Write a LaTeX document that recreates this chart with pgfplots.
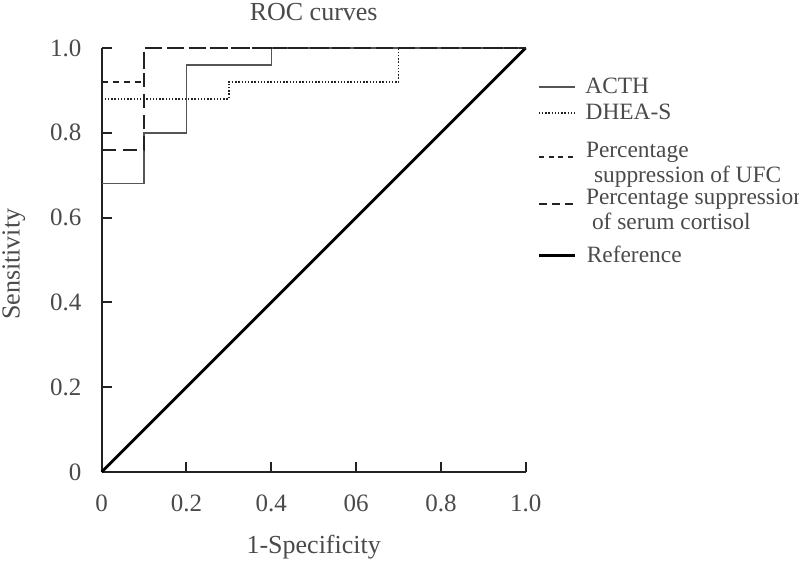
\documentclass[border=0pt]{standalone}
\usepackage{pgfplots}
\pgfplotsset{compat=1.18}
\usepackage{fontspec}
\setmainfont{Liberation Serif}
\definecolor{txt}{HTML}{4A4A4A}
\definecolor{ln}{HTML}{222222}
\definecolor{acth}{HTML}{555555}
\pgfplotsset{
  legax/.style={hide axis, scale only axis, width=212pt, height=212pt,
    xmin=0, xmax=1, ymin=0, ymax=1,
    legend style={at={(axis description cs:1.029,#1)}, anchor=west,
      draw=none, fill=none, inner sep=0pt, outer sep=0pt,
      nodes={inner sep=0pt, outer sep=0pt},
      font=\fontsize{11.7}{12.5}\selectfont, text=txt,
      cells={anchor=west}, column sep=5pt},
    legend image code/.code={\draw[##1] (0pt,0pt) -- (18pt,0pt);}},
}
\begin{document}
\begin{tikzpicture}
\begin{axis}[
  name=ax, scale only axis, width=212pt, height=212pt,
  xmin=0, xmax=1, ymin=0, ymax=1, clip=false,
  axis lines*=left,
  axis line style={line width=1pt, color=ln},
  tick align=inside, major tick length=5pt,
  tick style={line width=1pt, color=ln},
  xtick={0,0.2,0.4,0.6,0.8,1}, xticklabels={0,0.2,0.4,06,0.8,1.0},
  ytick={0,0.2,0.4,0.6,0.8,1}, yticklabels={0,0.2,0.4,0.6,0.8,1.0},
  ticklabel style={font=\fontsize{12.5}{14}\selectfont, text=txt},
  xticklabel style={yshift=-8pt},
  yticklabel style={xshift=-6.6pt},
  xlabel={1-Specificity},
  xlabel style={at={(axis description cs:0.5,-0.177)}, anchor=center, font=\fontsize{13}{15}\selectfont, text=txt},
  ylabel={Sensitivity},
  ylabel style={at={(axis description cs:-0.207,0.49)}, anchor=center, font=\fontsize{13}{15}\selectfont, text=txt},
  title={ROC curves},
  title style={at={(axis description cs:0.5,1.066)}, anchor=base, yshift=-6pt, font=\fontsize{13}{15}\selectfont, text=txt},
]
% Reference
\addplot[black, line width=1.4pt] coordinates {(0,0) (1,1)};
% DHEA-S
\addplot[ln, line width=0.8pt, dash pattern=on 0.7pt off 0.9pt] coordinates {
  (0,0.88) (0.3,0.88) (0.3,0.92) (0.7,0.92) (0.7,1) (1,1)};
% ACTH
\addplot[acth, line width=0.7pt] coordinates {
  (0,0.68) (0.1,0.68) (0.1,0.80) (0.2,0.80) (0.2,0.96) (0.4,0.96) (0.4,1) (1,1)};
% Percentage suppression of UFC
\addplot[ln, line width=1pt, dash pattern=on 3pt off 2.5pt] coordinates {
  (0,0.92) (0.1,0.92) (0.1,1) (1,1)};
% Percentage suppression of serum cortisol
\addplot[ln, line width=1pt, dash pattern=on 7pt off 3.5pt] coordinates {
  (0,0.76) (0.1,0.76) (0.1,1) (1,1)};
\end{axis}
% legend, one entry per overlaid (hidden) axis
\begin{axis}[legax=0.908]
\addlegendimage{acth, line width=0.7pt}
\addlegendentry{ACTH}
\end{axis}
\begin{axis}[legax=0.847]
\addlegendimage{ln, line width=0.8pt, dash pattern=on 0.7pt off 0.9pt}
\addlegendentry{DHEA-S}
\end{axis}
\begin{axis}[legax=0.742]
\addlegendimage{ln, line width=1pt, dash pattern=on 2.6pt off 2.2pt}
\addlegendentry{\begin{tabular}[c]{@{}l@{}}Percentage\\\hspace{4pt}suppression of UFC\end{tabular}}
\end{axis}
\begin{axis}[legax=0.631]
\addlegendimage{ln, line width=1pt, dash pattern=on 4pt off 2.5pt}
\addlegendentry{\begin{tabular}[c]{@{}l@{}}Percentage suppression\\\hspace{3pt}of serum cortisol\end{tabular}}
\end{axis}
\begin{axis}[legax=0.511]
\addlegendimage{black, line width=1.4pt}
\addlegendentry{Reference}
\end{axis}
\pgfresetboundingbox
\path[use as bounding box] (ax.south west) ++(-50.85pt,-45.5pt) rectangle ++(399.5pt,281.5pt);
\end{tikzpicture}
\end{document}
